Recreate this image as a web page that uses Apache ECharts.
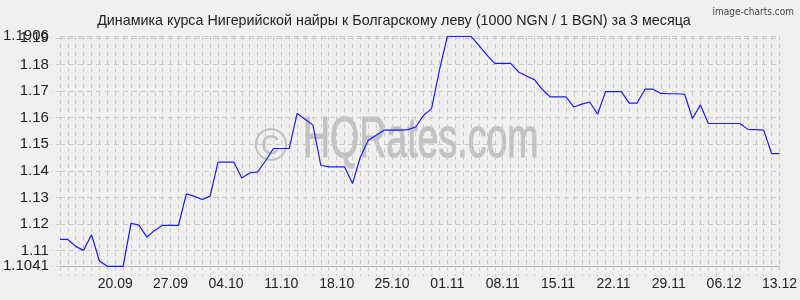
<!DOCTYPE html>
<html>
<head>
<meta charset="utf-8">
<script src="https://cdn.jsdelivr.net/npm/echarts@6/dist/echarts.min.js"></script>
<style>
html,body{margin:0;padding:0;background:#f0f0f0;}
#c{width:800px;height:300px;}
</style>
</head>
<body>
<div id="c"></div>
<script>
var titleText = 'Динамика курса Нигерийской найры к Болгарскому леву (1000 NGN / 1 BGN) за 3 месяца';
var brandText = 'image-charts.com';
var watermarkText = 'HQRates.com';
var dates = [
 '13.09','14.09','15.09','16.09','17.09','18.09','19.09','20.09','21.09','22.09','23.09','24.09','25.09','26.09','27.09','28.09','29.09','30.09',
 '01.10','02.10','03.10','04.10','05.10','06.10','07.10','08.10','09.10','10.10','11.10','12.10','13.10','14.10','15.10','16.10','17.10','18.10','19.10','20.10','21.10','22.10','23.10','24.10','25.10','26.10','27.10','28.10','29.10','30.10','31.10',
 '01.11','02.11','03.11','04.11','05.11','06.11','07.11','08.11','09.11','10.11','11.11','12.11','13.11','14.11','15.11','16.11','17.11','18.11','19.11','20.11','21.11','22.11','23.11','24.11','25.11','26.11','27.11','28.11','29.11','30.11',
 '01.12','02.12','03.12','04.12','05.12','06.12','07.12','08.12','09.12','10.12','11.12','12.12','13.12'
];
var rates = [
 1.1142,1.1142,1.1116,1.1101,1.1160,1.1061,1.1041,1.1041,1.1041,1.1203,
 1.1196,1.1151,1.1176,1.1195,1.1195,1.1195,1.1314,1.1304,1.1292,1.1305,
 1.1433,1.1433,1.1433,1.1373,1.1392,1.1396,1.1437,1.1484,1.1484,1.1484,
 1.1616,1.1594,1.1572,1.1421,1.1415,1.1415,1.1415,1.1352,1.1452,1.1515,
 1.1534,1.1553,1.1553,1.1553,1.1555,1.1565,1.1609,1.1634,1.1779,1.1906,
 1.1906,1.1906,1.1906,1.1871,1.1835,1.1804,1.1804,1.1804,1.1772,1.1757,
 1.1743,1.1706,1.1678,1.1678,1.1678,1.1640,1.1651,1.1659,1.1613,1.1698,
 1.1698,1.1698,1.1655,1.1655,1.1707,1.1707,1.1691,1.1690,1.1690,1.1688,
 1.1597,1.1648,1.1578,1.1578,1.1578,1.1578,1.1578,1.1556,1.1555,1.1553,
 1.1465,1.1465
];
var yMin = 1.1041, yMax = 1.1906;

var chart = echarts.init(document.getElementById('c'));
var gridCol = '#c9c9c9';
var yLabelStyle = {margin: 11, color: '#222', fontSize: 15, fontFamily: 'Liberation Sans, Arial', hideOverlap: false};
chart.setOption({
  backgroundColor: '#f0f0f0',
  animation: false,
  title: [{
    text: titleText, left: 389, top: 9, textAlign: 'center',
    textStyle: {fontFamily: 'Liberation Sans, Arial', fontSize: 14.3, fontWeight: 'normal', color: '#222'}
  },{
    text: brandText, right: 1, top: 2,
    textStyle: {fontFamily: 'DejaVu Sans Condensed, DejaVu Sans', fontSize: 10, fontWeight: 'normal', color: '#444'}
  }],
  graphic: [{
    type: 'text', z: 0, silent: true, x: 271, y: 148,
    style: {text: '©', font: '46px "Liberation Sans", Arial', fill: '#c2c2c2', align: 'center', verticalAlign: 'middle'}
  },{
    type: 'text', z: 0, silent: true, x: 303, y: 141, scaleY: 1.55,
    style: {text: watermarkText, font: '37.5px "Liberation Sans", Arial', fill: '#c2c2c2', align: 'left', verticalAlign: 'middle',
            stroke: '#c2c2c2', lineWidth: 0.7}
  }],
  grid: {left: 59.3, right: 20.5, top: 36.3, bottom: 33.7, containLabel: false},
  xAxis: {
    type: 'category', data: dates, boundaryGap: false,
    axisLine: {show: true, lineStyle: {color: '#b4b4b4', width: 1}},
    axisTick: {show: true, interval: 0, length: 10, lineStyle: {color: gridCol, type: [4, 4]}},
    splitLine: {show: true, interval: 0, lineStyle: {color: gridCol, type: [4, 4], width: 1}},
    axisLabel: {
      interval: function (i) { return i > 0 && i % 7 === 0; },
      margin: 11, color: '#222', fontSize: 14, fontFamily: 'Liberation Sans, Arial'
    }
  },
  yAxis: [{
    type: 'value', min: yMin, max: yMax, splitNumber: 9, scale: true, position: 'left',
    axisLine: {show: false},
    axisTick: {show: true, length: 9, lineStyle: {color: gridCol, type: [4, 4]}},
    splitLine: {show: true, lineStyle: {color: gridCol, type: [5, 4], width: 1}},
    axisLabel: Object.assign({showMinLabel: true, showMaxLabel: false}, yLabelStyle)
  },{
    type: 'value', min: yMin, max: yMax, splitNumber: 9, scale: true, position: 'left', offset: 0,
    axisLine: {show: false}, axisTick: {show: false}, splitLine: {show: false},
    axisLabel: Object.assign({showMinLabel: false, showMaxLabel: true,
      formatter: function (v) { return Math.abs(v - yMax) < 1e-9 ? String(yMax) : ''; }}, yLabelStyle)
  }],
  series: [{
    type: 'line', data: rates, symbol: 'none', z: 5, yAxisIndex: 0,
    lineStyle: {color: '#1a1aff', width: 1.2}
  }]
});
</script>
</body>
</html>
